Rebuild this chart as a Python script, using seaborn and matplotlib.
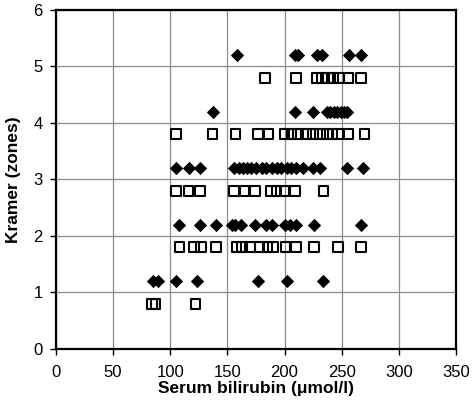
import numpy as np
import pandas as pd
import matplotlib
matplotlib.use("Agg")
import matplotlib.pyplot as plt
import seaborn as sns

# bilirubin values, grouped by Kramer zone
# filled diamonds (drawn slightly above the zone)
diamond_z1 = [85, 89, 105, 123, 177, 202, 234]
diamond_z2 = [108, 126, 140, 154, 157, 162, 174, 184, 189, 200, 205, 210, 226, 267]
diamond_z3 = [105, 116, 126, 156, 160, 164, 167, 171, 175, 180, 184, 189, 193,
              197, 202, 206, 210, 216, 225, 231, 255, 269]
diamond_z4 = [137, 209, 225, 237, 240, 243, 246, 249, 252, 255]
diamond_z5 = [158, 209, 212, 228, 233, 256, 267]

# open squares (drawn slightly below the zone)
square_z1 = [84, 87, 122]
square_z2 = [108, 121, 127, 140, 158, 163, 170, 178, 185, 190, 201, 210, 226, 247, 267]
square_z3 = [105, 116, 126, 156, 165, 174, 188, 193, 200, 209, 234]
square_z4 = [105, 137, 157, 177, 186, 200, 206, 212, 219, 225, 231, 237, 242,
             247, 256, 270]
square_z5 = [183, 210, 228, 233, 238, 243, 248, 256, 267]

x_ticks = [0, 50, 100, 150, 200, 250, 300, 350]
y_ticks = [0, 1, 2, 3, 4, 5, 6]


def to_frame(groups, offset):
    rows = []
    for zone, vals in enumerate(groups, start=1):
        for v in vals:
            rows.append({"bilirubin": v, "zone": zone + offset})
    return pd.DataFrame(rows)


df_d = to_frame([diamond_z1, diamond_z2, diamond_z3, diamond_z4, diamond_z5], 0.2)
df_s = to_frame([square_z1, square_z2, square_z3, square_z4, square_z5], -0.2)

sns.set_theme(style="white")
plt.rcParams["font.family"] = ["Liberation Sans", "DejaVu Sans"]
plt.rcParams["text.color"] = "black"
plt.rcParams["axes.labelcolor"] = "black"
plt.rcParams["xtick.color"] = "black"
plt.rcParams["ytick.color"] = "black"

fig = plt.figure(figsize=(4.74, 4.12), dpi=100)
ax = fig.add_axes([0.118, 0.153, 0.844, 0.823])

sns.scatterplot(data=df_d, x="bilirubin", y="zone", marker="D", s=46,
                color="black", edgecolor="black", linewidth=0, ax=ax, zorder=3)
sns.scatterplot(data=df_s, x="bilirubin", y="zone", marker="s", s=48,
                facecolor="none", edgecolor="black", linewidth=1.5, ax=ax, zorder=3)

ax.set_xlim(0, 350)
ax.set_ylim(0, 6)
ax.set_xticks(x_ticks)
ax.set_yticks(y_ticks)
ax.grid(True, color="#8c8c8c", linewidth=0.9)
ax.set_axisbelow(True)
for sp in ax.spines.values():
    sp.set_color("black")
    sp.set_linewidth(1.6)
ax.tick_params(axis="both", which="major", direction="out", length=4.5, width=1,
               labelsize=12, left=True, bottom=True)
ax.tick_params(axis="x", pad=7)
ax.tick_params(axis="y", pad=5)
ax.set_xlabel("Serum bilirubin (\u03bcmol/l)", fontsize=12.5, fontweight="bold", labelpad=1)
ax.set_ylabel("Kramer (zones)", fontsize=12.5, fontweight="bold", labelpad=9)

fig.savefig("out.png", dpi=100)
